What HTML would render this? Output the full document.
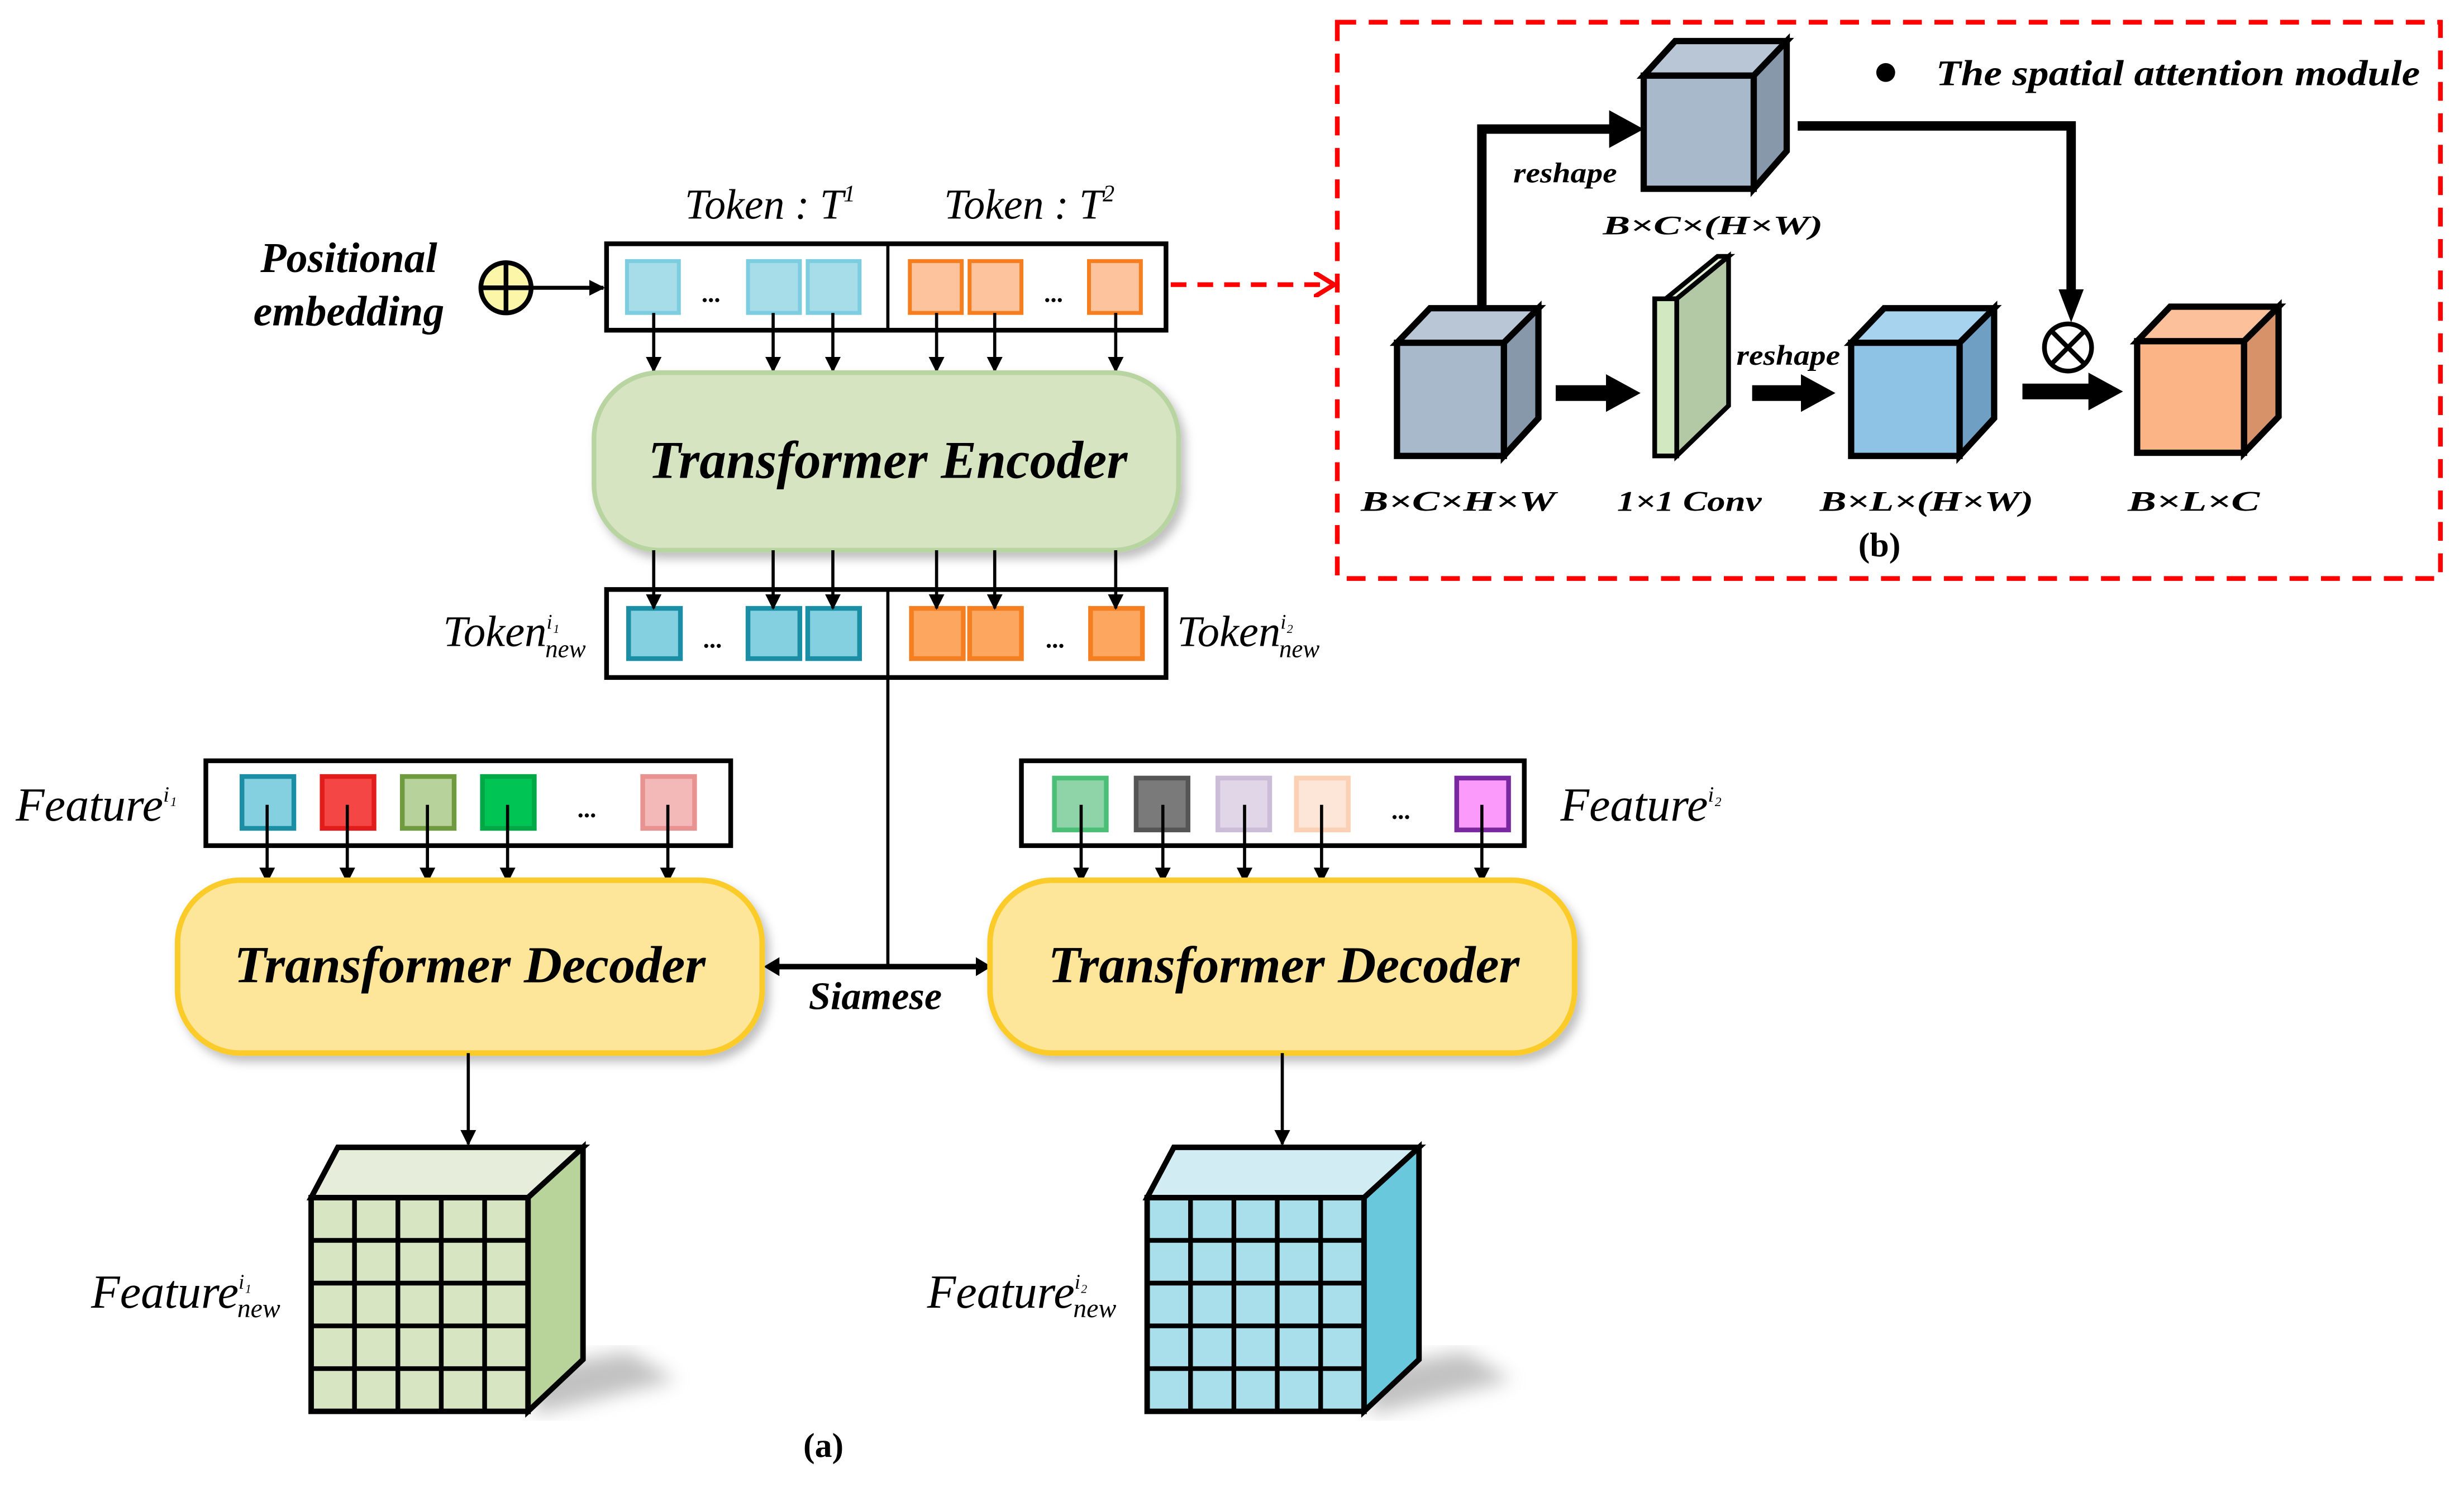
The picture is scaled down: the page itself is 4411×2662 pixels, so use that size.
<!DOCTYPE html>
<html><head><meta charset="utf-8"><style>
html,body{margin:0;padding:0;background:#fff}
svg{display:block}
text{font-family:"Liberation Serif","Times New Roman",serif;font-style:italic}
.b{font-weight:bold}
</style></head><body>
<svg width="4411" height="2662" viewBox="0 0 1568 946" xmlns="http://www.w3.org/2000/svg" font-family="Liberation Serif, Times New Roman, serif">
<defs>
<marker id="ah" markerWidth="10" markerHeight="10" refX="9" refY="5" orient="auto" markerUnits="userSpaceOnUse"><path d="M0,0 L10,5 L0,10 Z" fill="#000"/></marker>
<marker id="ah2" markerWidth="10" markerHeight="12" refX="1" refY="6" orient="auto-start-reverse" markerUnits="userSpaceOnUse"><path d="M0,0 L10,6 L0,12 Z" fill="#000"/></marker>
<marker id="tk" markerWidth="24" markerHeight="24" refX="4" refY="12" orient="auto" markerUnits="userSpaceOnUse"><path d="M0,0 L22,12 L0,24 Z" fill="#000"/></marker>
<marker id="rd" markerWidth="14" markerHeight="16" refX="12" refY="8" orient="auto" markerUnits="userSpaceOnUse"><path d="M0,0 L13,8 L0,16" fill="none" stroke="#f00" stroke-width="3"/></marker>
<filter id="sh" x="-10%" y="-10%" width="130%" height="130%"><feDropShadow dx="3" dy="4" stdDeviation="3" flood-color="#000" flood-opacity="0.25"/></filter>
<filter id="bl"><feGaussianBlur stdDeviation="6"/></filter>
</defs>

<!-- (b) box -->
<rect x="851" y="14" width="702" height="354" fill="none" stroke="#f00" stroke-width="3" stroke-dasharray="12,8"/>
<circle cx="1200" cy="46" r="6" fill="#000"/>
<text x="1232" y="54" class="b" font-size="23" textLength="308" lengthAdjust="spacingAndGlyphs">The spatial attention module</text>

<!-- top cube -->
<g stroke="#000" stroke-width="4" stroke-linejoin="miter">
<polygon points="1046,48 1066,26 1137,26 1116,48" fill="#b8c6d6"/>
<polygon points="1116,48 1137,26 1137,96 1116,120" fill="#8798aa"/>
<rect x="1046" y="48" width="70" height="72" fill="#a9b9cc"/>
</g>
<text x="1090" y="149" font-size="17" class="b" text-anchor="middle" textLength="140" lengthAdjust="spacingAndGlyphs">B×C×(H×W)</text>
<text x="996" y="116" font-size="18" class="b" text-anchor="middle" textLength="66" lengthAdjust="spacingAndGlyphs">reshape</text>
<polyline points="943,196 943,82 1028,82" fill="none" stroke="#000" stroke-width="6" marker-end="url(#tk)"/>
<polyline points="1144,80 1318,80 1318,188" fill="none" stroke="#000" stroke-width="6"/>
<path d="M1310,184 L1326,184 L1318,205 Z" fill="#000"/>
<circle cx="1316" cy="221" r="15" fill="#fff" stroke="#000" stroke-width="3"/>
<path d="M1305,210 L1327,232 M1327,210 L1305,232" stroke="#000" stroke-width="3"/>

<!-- bottom-left cube -->
<g stroke="#000" stroke-width="4">
<polygon points="889,218 910,196 979,196 957,218" fill="#b8c6d6"/>
<polygon points="957,218 979,196 979,266 957,290" fill="#8798aa"/>
<rect x="889" y="218" width="68" height="72" fill="#a9b9cc"/>
</g>
<line x1="990" y1="250" x2="1026" y2="250" stroke="#000" stroke-width="10" marker-end="url(#tk)"/>
<!-- conv plate -->
<g stroke="#000" stroke-width="3">
<polygon points="1060,190 1093,163 1100,163 1067,190" fill="#e3f0d6"/>
<polygon points="1067,190 1100,163 1100,258 1067,290" fill="#b3c9a6"/>
<rect x="1053" y="190" width="14" height="100" fill="#d2e8c0"/>
</g>
<text x="1138" y="232" font-size="18" class="b" text-anchor="middle" textLength="66" lengthAdjust="spacingAndGlyphs">reshape</text>
<line x1="1115" y1="250" x2="1150" y2="250" stroke="#000" stroke-width="10" marker-end="url(#tk)"/>
<!-- blue cube -->
<g stroke="#000" stroke-width="4">
<polygon points="1178,218 1199,196 1269,196 1247,218" fill="#a8d3ef"/>
<polygon points="1247,218 1269,196 1269,266 1247,290" fill="#6fa0c4"/>
<rect x="1178" y="218" width="69" height="72" fill="#8ec3e6"/>
</g>
<line x1="1287" y1="249" x2="1333" y2="249" stroke="#000" stroke-width="10" marker-end="url(#tk)"/>
<!-- orange cube -->
<g stroke="#000" stroke-width="4">
<polygon points="1360,217 1381,195 1450,195 1428,217" fill="#fcc09a"/>
<polygon points="1428,217 1450,195 1450,265 1428,288" fill="#d8926a"/>
<rect x="1360" y="217" width="68" height="71" fill="#fbb486"/>
</g>
<g font-size="18" class="b" text-anchor="middle">
<text x="928" y="325" textLength="124" lengthAdjust="spacingAndGlyphs">B×C×H×W</text>
<text x="1075" y="325" textLength="92" lengthAdjust="spacingAndGlyphs">1×1 Conv</text>
<text x="1226" y="325" textLength="136" lengthAdjust="spacingAndGlyphs">B×L×(H×W)</text>
<text x="1396" y="325" textLength="84" lengthAdjust="spacingAndGlyphs">B×L×C</text>
</g>
<text x="1196" y="354" font-size="22" font-weight="bold" text-anchor="middle" style="font-style:normal">(b)</text>

<!-- tokens -->
<text x="490" y="139" font-size="27" text-anchor="middle">Token : T<tspan font-size="15" dy="-11">1</tspan></text>
<text x="655" y="139" font-size="27" text-anchor="middle">Token : T<tspan font-size="15" dy="-11">2</tspan></text>
<text x="222" y="173" font-size="27" class="b" text-anchor="middle">Positional</text>
<text x="222" y="207" font-size="27" class="b" text-anchor="middle">embedding</text>
<circle cx="322" cy="183" r="16" fill="#fbf6a8" stroke="#000" stroke-width="3"/>
<path d="M306,183 H338 M322,167 V199" stroke="#000" stroke-width="3"/>
<line x1="338" y1="183" x2="384" y2="183" stroke="#000" stroke-width="2.5" marker-end="url(#ah)"/>
<rect x="386" y="155" width="356" height="55" fill="#fff" stroke="#000" stroke-width="3"/>
<line x1="565" y1="155" x2="565" y2="210" stroke="#000" stroke-width="2"/>
<g stroke-width="2.5">
<rect x="399" y="166" width="33" height="33" fill="#a6dde9" stroke="#7ccde0"/>
<rect x="476" y="166" width="33" height="33" fill="#a6dde9" stroke="#7ccde0"/>
<rect x="514" y="166" width="33" height="33" fill="#a6dde9" stroke="#7ccde0"/>
<rect x="579" y="166" width="33" height="33" fill="#fcc39c" stroke="#f57f20"/>
<rect x="617" y="166" width="33" height="33" fill="#fcc39c" stroke="#f57f20"/>
<rect x="693" y="166" width="33" height="33" fill="#fcc39c" stroke="#f57f20"/>
</g>
<text x="453" y="192" font-size="16" text-anchor="middle" font-weight="bold">...</text>
<text x="671" y="192" font-size="16" text-anchor="middle" font-weight="bold">...</text>
<line x1="745" y1="181" x2="848" y2="181" stroke="#f00" stroke-width="3" stroke-dasharray="10,7" marker-end="url(#rd)"/>
<g stroke="#000" stroke-width="2" marker-end="url(#ah)">
<line x1="416" y1="199" x2="416" y2="236"/><line x1="492" y1="199" x2="492" y2="236"/><line x1="530" y1="199" x2="530" y2="236"/>
<line x1="596" y1="199" x2="596" y2="236"/><line x1="633" y1="199" x2="633" y2="236"/><line x1="710" y1="199" x2="710" y2="236"/>
</g>
<rect x="378" y="237" width="372" height="113" rx="42" fill="#d6e4c1" stroke="#b8d4a0" stroke-width="3" filter="url(#sh)"/>
<text x="565" y="304" font-size="34" class="b" text-anchor="middle" textLength="305" lengthAdjust="spacingAndGlyphs">Transformer Encoder</text>
<rect x="386" y="375" width="356" height="56" fill="#fff" stroke="#000" stroke-width="3"/>
<line x1="565" y1="375" x2="565" y2="615" stroke="#000" stroke-width="2"/>
<g stroke-width="3">
<rect x="400" y="387" width="33" height="32" fill="#84cfe0" stroke="#1a8ea4"/>
<rect x="476" y="387" width="33" height="32" fill="#84cfe0" stroke="#1a8ea4"/>
<rect x="514" y="387" width="33" height="32" fill="#84cfe0" stroke="#1a8ea4"/>
<rect x="580" y="387" width="33" height="32" fill="#fca660" stroke="#f57f20"/>
<rect x="617" y="387" width="33" height="32" fill="#fca660" stroke="#f57f20"/>
<rect x="694" y="387" width="33" height="32" fill="#fca660" stroke="#f57f20"/>
</g>
<g stroke="#000" stroke-width="2" marker-end="url(#ah)">
<line x1="416" y1="350" x2="416" y2="387"/><line x1="492" y1="350" x2="492" y2="387"/><line x1="530" y1="350" x2="530" y2="387"/>
<line x1="596" y1="350" x2="596" y2="387"/><line x1="633" y1="350" x2="633" y2="387"/><line x1="710" y1="350" x2="710" y2="387"/>
</g>
<text x="454" y="412" font-size="16" text-anchor="middle" font-weight="bold">...</text>
<text x="672" y="412" font-size="16" text-anchor="middle" font-weight="bold">...</text>
<text x="282" y="411" font-size="28">Token<tspan font-size="13" dy="-11">i₁</tspan><tspan font-size="16" dx="-9" dy="18">new</tspan></text>
<text x="749" y="411" font-size="28">Token<tspan font-size="13" dy="-11">i₂</tspan><tspan font-size="16" dx="-9" dy="18">new</tspan></text>

<!-- siamese -->
<line x1="495" y1="615" x2="622" y2="615" stroke="#000" stroke-width="3.5" marker-start="url(#ah2)" marker-end="url(#ah2)"/>
<text x="557" y="642" font-size="25" class="b" text-anchor="middle">Siamese</text>

<!-- left feature -->
<text x="10" y="522" font-size="30">Feature<tspan font-size="14" dy="-12">i₁</tspan></text>
<rect x="131" y="484" width="334" height="54" fill="#fff" stroke="#000" stroke-width="3"/>
<g stroke-width="3">
<rect x="154" y="494" width="33" height="33" fill="#84cfe0" stroke="#1a8ea4"/>
<rect x="205" y="494" width="33" height="33" fill="#f54646" stroke="#e21b1b"/>
<rect x="256" y="494" width="33" height="33" fill="#b7d29a" stroke="#6f9a3e"/>
<rect x="307" y="494" width="33" height="33" fill="#00c454" stroke="#00a846"/>
<rect x="409" y="494" width="33" height="33" fill="#f3b8b8" stroke="#e99292"/>
</g>
<text x="374" y="520" font-size="16" text-anchor="middle" font-weight="bold">...</text>
<g stroke="#000" stroke-width="2" marker-end="url(#ah)">
<line x1="170" y1="512" x2="170" y2="561"/><line x1="221" y1="512" x2="221" y2="561"/><line x1="272" y1="512" x2="272" y2="561"/><line x1="323" y1="512" x2="323" y2="561"/><line x1="425" y1="512" x2="425" y2="561"/>
</g>
<rect x="113" y="560" width="372" height="110" rx="40" fill="#fde69a" stroke="#fbcb2a" stroke-width="3.5" filter="url(#sh)"/>
<text x="299" y="625" font-size="33" class="b" text-anchor="middle" textLength="300" lengthAdjust="spacingAndGlyphs">Transformer Decoder</text>

<!-- right feature -->
<text x="993" y="522" font-size="30">Feature<tspan font-size="14" dy="-12">i₂</tspan></text>
<rect x="650" y="484" width="320" height="54" fill="#fff" stroke="#000" stroke-width="3"/>
<g stroke-width="3">
<rect x="671" y="495" width="33" height="33" fill="#8fd4a8" stroke="#4cbf76"/>
<rect x="723" y="495" width="33" height="33" fill="#7a7a7a" stroke="#555"/>
<rect x="775" y="495" width="33" height="33" fill="#e0d6e8" stroke="#cbbcd8"/>
<rect x="825" y="495" width="33" height="33" fill="#fde6d8" stroke="#fbd0b4"/>
<rect x="927" y="495" width="33" height="33" fill="#fc9afc" stroke="#7a28a0"/>
</g>
<text x="892" y="521" font-size="16" text-anchor="middle" font-weight="bold">...</text>
<g stroke="#000" stroke-width="2" marker-end="url(#ah)">
<line x1="688" y1="512" x2="688" y2="561"/><line x1="740" y1="512" x2="740" y2="561"/><line x1="792" y1="512" x2="792" y2="561"/><line x1="841" y1="512" x2="841" y2="561"/><line x1="943" y1="512" x2="943" y2="561"/>
</g>
<rect x="630" y="560" width="372" height="110" rx="40" fill="#fde69a" stroke="#fbcb2a" stroke-width="3.5" filter="url(#sh)"/>
<text x="817" y="625" font-size="33" class="b" text-anchor="middle" textLength="300" lengthAdjust="spacingAndGlyphs">Transformer Decoder</text>

<g stroke="#000" stroke-width="2" marker-end="url(#ah)">
<line x1="298" y1="670" x2="298" y2="728"/><line x1="816" y1="670" x2="816" y2="728"/>
</g>

<!-- grid cubes -->
<polygon points="340,870 400,860 430,878 340,900" fill="#999" filter="url(#bl)" opacity="0.6"/>
<polygon points="872,870 932,860 962,878 872,900" fill="#999" filter="url(#bl)" opacity="0.6"/>
<g stroke="#000" stroke-width="3.5">
<polygon points="198,762 215,730 371,730 336,762" fill="#e6eedb"/>
<polygon points="336,762 371,730 371,865 336,898" fill="#b8d49b"/>
<rect x="198" y="762" width="138" height="136" fill="#d8e5c2"/>
<path d="M225.6,762V898 M253.2,762V898 M280.8,762V898 M308.4,762V898 M198,789.2H336 M198,816.4H336 M198,843.6H336 M198,870.8H336" stroke-width="3"/>
</g>
<g stroke="#000" stroke-width="3.5">
<polygon points="730,762 747,730 903,730 868,762" fill="#d2ecf3"/>
<polygon points="868,762 903,730 903,865 868,898" fill="#6ac8dc"/>
<rect x="730" y="762" width="138" height="136" fill="#a8dfea"/>
<path d="M757.6,762V898 M785.2,762V898 M812.8,762V898 M840.4,762V898 M730,789.2H868 M730,816.4H868 M730,843.6H868 M730,870.8H868" stroke-width="3"/>
</g>
<text x="58" y="832" font-size="30">Feature<tspan font-size="13" dy="-12">i₁</tspan><tspan font-size="17" dx="-9" dy="18">new</tspan></text>
<text x="590" y="832" font-size="30">Feature<tspan font-size="13" dy="-12">i₂</tspan><tspan font-size="17" dx="-9" dy="18">new</tspan></text>
<text x="524" y="927" font-size="22" font-weight="bold" text-anchor="middle" style="font-style:normal">(a)</text>
</svg>
</body></html>
